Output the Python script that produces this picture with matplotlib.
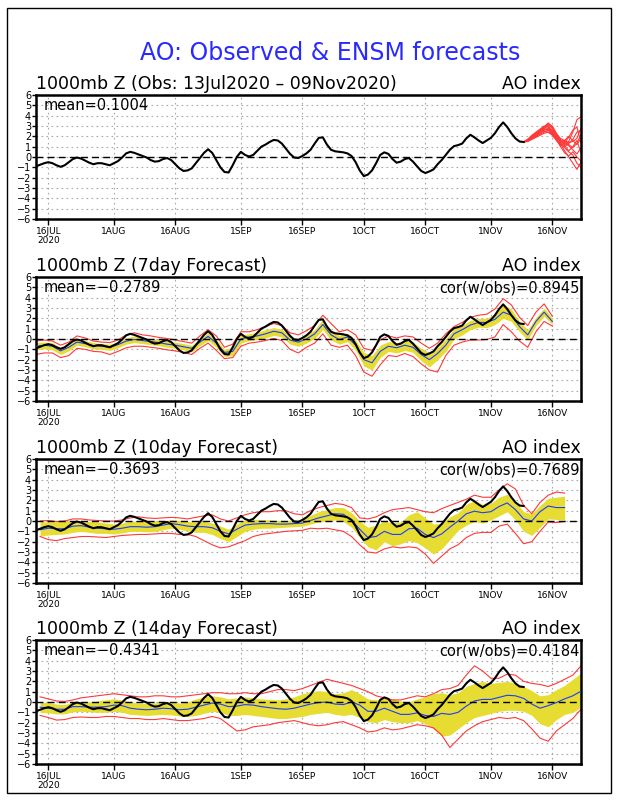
import matplotlib
matplotlib.use("Agg")
import matplotlib.pyplot as plt
import matplotlib.patches as patches
import numpy as np

# --- data (AO index, day 0 = 13 Jul 2020) ---
start = np.datetime64('2020-07-13')

obs_ao = [-0.9, -0.75, -0.6, -0.5, -0.6, -0.8, -0.95, -0.8, -0.5, -0.2,
          -0.05, -0.15, -0.35, -0.55, -0.7, -0.6, -0.6, -0.7, -0.8, -0.6,
          -0.4, -0.05, 0.35, 0.5, 0.4, 0.25, 0.1, -0.05, -0.3, -0.45,
          -0.4, -0.2, -0.1, -0.3, -0.7, -1.1, -1.35, -1.3, -1.1, -0.6,
          -0.1, 0.4, 0.75, 0.4, -0.3, -1.0, -1.45, -1.5, -0.8, 0.0,
          0.5, 0.2, 0.05, 0.2, 0.6, 1.0, 1.2, 1.45, 1.65, 1.6,
          1.3, 0.8, 0.3, -0.05, -0.1, 0.1, 0.35, 0.7, 1.3, 1.85,
          1.9, 1.2, 0.7, 0.55, 0.5, 0.45, 0.35, 0.1, -0.5, -1.3,
          -1.85, -1.7, -1.3, -0.6, 0.2, 0.45, 0.3, -0.2, -0.55, -0.45,
          -0.2, -0.1, -0.45, -0.9, -1.35, -1.55, -1.4, -1.2, -0.7, -0.3,
          0.2, 0.7, 1.05, 1.15, 1.3, 1.8, 2.15, 1.9, 1.6, 1.35,
          1.6, 1.85, 2.3, 2.9, 3.35, 2.9, 2.3, 1.8, 1.5, 1.45]

# ensemble members from 09 Nov (day 119) to 23 Nov
ens_members = [
    [1.45, 1.6, 1.9, 2.2, 2.6, 2.9, 3.3, 2.9, 2.2, 1.6, 1.2, 1.5, 2.4, 3.6, 3.9],
    [1.45, 1.7, 2.0, 2.3, 2.5, 2.8, 3.0, 2.6, 2.1, 1.4, 0.9, 0.5, 0.2, -0.6, -1.0],
    [1.45, 1.55, 1.8, 2.1, 2.3, 2.6, 2.7, 2.3, 1.7, 1.2, 1.0, 1.3, 1.7, 2.4, 2.6],
    [1.45, 1.65, 1.95, 2.2, 2.4, 2.5, 2.4, 2.2, 1.8, 1.3, 0.6, 0.0, -0.6, -1.2, -0.5],
    [1.45, 1.6, 1.85, 2.0, 2.3, 2.7, 3.1, 2.8, 2.0, 1.5, 1.6, 2.0, 1.6, 1.2, 1.8],
    [1.45, 1.7, 2.1, 2.4, 2.7, 3.0, 2.9, 2.5, 1.9, 1.5, 1.3, 1.1, 0.7, 0.3, 0.9],
    [1.45, 1.5, 1.7, 1.9, 2.1, 2.3, 2.4, 2.1, 1.6, 1.1, 1.4, 1.9, 2.6, 2.9, 1.4],
    [1.45, 1.65, 1.9, 2.3, 2.6, 2.9, 3.2, 3.0, 2.3, 1.7, 1.1, 0.6, 1.0, 1.6, 0.4],
    [1.45, 1.6, 1.8, 2.1, 2.4, 2.6, 2.8, 2.4, 1.9, 1.6, 1.5, 1.2, 0.9, 1.3, 2.2],
    [1.45, 1.7, 2.0, 2.3, 2.5, 2.7, 2.6, 2.2, 1.7, 1.0, 0.4, 0.1, 0.5, 0.0, -0.4],
    [1.45, 1.55, 1.75, 2.0, 2.2, 2.4, 2.6, 2.5, 2.2, 1.8, 1.6, 1.4, 1.5, 1.8, 2.8],
]

# 7day forecast, every 2nd day from day 0
mean7 = [-0.7, -0.6, -0.7, -1.15, -0.8, -0.3, -0.45, -0.65, -0.7, -0.8,
         -0.55, -0.2, -0.05, -0.15, -0.25, -0.35, -0.5, -0.6, -0.75, -0.9,
         -0.3, 0.25, -0.4, -1.3, -1.2, 0.0, 0.2, 0.3, 0.5, 0.75,
         0.6, -0.1, -0.3, 0.0, 0.5, 1.4, 0.4, -0.05, 0.2, -0.6,
         -2.0, -2.3, -1.2, -0.7, -0.85, -0.6, -0.8, -1.5, -2.0, -1.4,
         -0.6, 0.5, 0.9, 1.35, 1.6, 1.6, 1.9, 2.6, 2.3, 1.2,
         0.4, 1.7, 2.6, 1.7]
hi7 = [-0.35, -0.3, -0.35, -0.85, -0.5, 0.05, -0.15, -0.35, -0.45, -0.5,
       -0.3, 0.1, 0.3, 0.15, 0.05, -0.05, -0.2, -0.3, -0.45, -0.6,
       0.0, 0.6, -0.05, -1.0, -0.8, 0.4, 0.5, 0.65, 0.9, 1.1,
       0.95, 0.25, 0.05, 0.4, 0.9, 1.9, 0.9, 0.35, 0.6, -0.1,
       -1.3, -1.6, -0.6, -0.25, -0.35, -0.2, -0.3, -0.9, -1.3, -0.8,
       0.0, 1.0, 1.3, 1.8, 2.0, 2.0, 2.4, 3.4, 2.9, 1.7,
       0.9, 2.1, 3.0, 2.0]
lo7 = [-1.05, -0.95, -1.05, -1.5, -1.15, -0.6, -0.75, -0.95, -1.0, -1.1,
       -0.85, -0.5, -0.35, -0.45, -0.55, -0.65, -0.8, -0.9, -1.05, -1.25,
       -0.65, -0.15, -0.8, -1.7, -1.6, -0.4, -0.15, -0.05, 0.1, 0.35,
       0.2, -0.5, -0.7, -0.4, 0.05, 0.9, -0.1, -0.5, -0.25, -1.1,
       -2.6, -3.0, -1.8, -1.2, -1.35, -1.1, -1.3, -2.1, -2.7, -2.0,
       -1.2, 0.0, 0.4, 0.9, 1.15, 1.1, 1.4, 2.0, 1.7, 0.7,
       -0.1, 1.3, 2.2, 1.4]
max7 = [-0.2, -0.1, -0.2, -0.6, -0.3, 0.3, 0.1, -0.2, -0.3, -0.35,
        -0.1, 0.4, 0.6, 0.4, 0.3, 0.15, 0.05, -0.1, -0.25, -0.4,
        0.3, 0.9, 0.3, -0.8, -0.5, 0.7, 0.7, 0.9, 1.2, 1.5,
        1.3, 0.6, 0.4, 0.8, 1.3, 2.3, 1.5, 0.7, 0.9, 0.4,
        -0.9, -1.1, -0.1, 0.3, 0.1, 0.3, 0.2, -0.4, -0.9, -0.4,
        0.5, 1.2, 1.6, 2.1, 2.3, 2.4, 2.9, 3.9, 3.3, 2.1,
        1.3, 2.6, 3.4, 2.2]
min7 = [-1.5, -1.35, -1.35, -1.8, -1.6, -0.9, -1.0, -1.2, -1.25, -1.5,
        -1.2, -0.85, -0.7, -0.7, -0.8, -0.9, -1.05, -1.15, -1.3, -1.5,
        -0.9, -0.4, -1.1, -1.9, -1.8, -0.7, -0.4, -0.3, -0.15, 0.05,
        -0.15, -1.0, -1.35, -0.8, -0.4, 0.5, -0.6, -0.8, -0.6, -1.6,
        -3.2, -3.6, -2.5, -1.6, -1.7, -1.4, -1.7, -2.4, -3.0, -3.2,
        -1.6, -0.6, -0.3, -0.1, -0.1, -0.05, 0.2, 1.4, 0.7, -0.2,
        -0.8, 0.7, 1.7, 1.25]

# 10day forecast, every 2nd day from day 1
mean10 = [-0.85, -0.7, -0.75, -0.75, -0.5, -0.45, -0.6, -0.7, -0.75, -0.8,
          -0.7, -0.55, -0.55, -0.6, -0.55, -0.4, -0.25, -0.35, -0.5, -0.55,
          -0.55, -0.65, -1.0, -1.25, -0.8, -0.4, -0.3, -0.25, -0.25, -0.3,
          -0.3, -0.25, -0.2, 0.05, 0.3, 0.5, 0.7, 0.65, 0.1, -0.8,
          -1.6, -1.5, -1.0, -1.3, -1.3, -0.75, -0.7, -1.3, -1.6, -1.25,
          -0.6, 0.0, 0.7, 0.95, 0.8, 0.9, 1.4, 1.75, 1.1, 0.2,
          0.0, 0.9, 1.45, 1.3, 1.3]
hi10 = [-0.05, -0.1, -0.05, 0.0, 0.0, 0.0, -0.05, -0.1, -0.2, -0.3,
        -0.2, -0.05, 0.0, -0.05, 0.0, 0.05, 0.1, 0.05, -0.05, -0.1,
        -0.05, -0.2, -0.5, -0.8, -0.3, 0.1, 0.15, 0.15, 0.1, 0.05,
        0.05, 0.1, 0.2, 0.55, 0.9, 1.1, 1.3, 1.3, 0.8, 0.0,
        -0.6, -0.4, 0.0, -0.2, -0.1, 0.6, 0.9, 0.3, -0.3, -0.2,
        0.4, 0.8, 1.6, 2.0, 1.6, 1.7, 2.3, 2.6, 1.9, 0.9,
        0.7, 1.5, 2.2, 2.3, 2.4]
lo10 = [-1.45, -1.35, -1.3, -1.25, -1.1, -1.0, -1.1, -1.2, -1.2, -1.25,
        -1.15, -1.0, -1.0, -1.05, -1.0, -0.85, -0.7, -0.8, -0.95, -1.1,
        -1.1, -1.3, -1.7, -2.0, -1.5, -1.0, -0.8, -0.7, -0.7, -0.65,
        -0.6, -0.55, -0.5, -0.3, -0.1, 0.0, 0.1, -0.05, -0.6, -1.6,
        -2.5, -2.8, -2.0, -2.4, -2.2, -1.9, -2.1, -2.6, -3.2, -2.7,
        -1.8, -0.9, -0.4, -0.05, -0.2, 0.1, 0.5, 0.9, 0.1, -1.0,
        -1.4, -0.6, 0.2, 0.15, 0.1]
max10 = [0.0, 0.05, -0.05, 0.0, 0.2, 0.2, 0.1, 0.05, 0.0, 0.0,
         0.1, 0.3, 0.4, 0.3, 0.25, 0.3, 0.35, 0.3, 0.2, 0.35,
         0.5, 0.6, 0.2, 0.0, 0.3, 0.6, 0.8, 0.9, 0.9, 1.0,
         1.0, 0.7, 0.6, 1.0, 1.3, 1.5, 1.7, 1.6, 1.3, 0.3,
         0.2, 0.4, 0.8, 1.1, 1.2, 1.3, 1.1, 0.9, 0.8, 1.2,
         1.5, 1.8, 2.1, 2.5, 2.3, 2.3, 3.0, 3.6, 3.1, 1.5,
         0.7, 1.8, 2.5, 2.8, 2.7]
min10 = [-1.5, -1.8, -1.9, -1.7, -1.6, -1.5, -1.5, -1.55, -1.6, -1.5,
         -1.4, -1.35, -1.3, -1.3, -1.25, -1.2, -1.2, -1.3, -1.3, -1.5,
         -1.9, -2.3, -2.6, -2.5, -2.2, -1.9, -1.5, -1.3, -1.2, -1.1,
         -1.0, -0.95, -0.9, -0.7, -0.75, -0.7, -0.85, -1.0, -1.5, -2.3,
         -3.0, -3.1, -2.7, -2.5, -2.6, -2.5, -2.6, -3.2, -4.1, -3.4,
         -2.7, -2.3, -1.6, -1.2, -1.1, -1.1, -0.5, -0.3, -1.2, -2.2,
         -2.0, -1.0, -0.1, -0.15, -0.05]

# 14day forecast, every 2nd day from day 1
mean14 = [-0.5, -0.6, -0.7, -0.7, -0.45, -0.45, -0.5, -0.5, -0.45, -0.3,
          -0.35, -0.6, -0.7, -0.75, -0.7, -0.6, -0.65, -0.75, -0.7, -0.5,
          -0.3, -0.1, -0.2, -0.45, -0.4, -0.25, -0.3, -0.45, -0.55, -0.65,
          -0.7, -0.6, -0.4, -0.2, -0.05, 0.0, -0.2, -0.25, 0.0, -0.3,
          -0.9, -0.9, -0.6, -0.9, -1.2, -1.2, -1.05, -1.3, -1.4, -1.1,
          -1.2, -1.0, -0.4, 0.1, 0.25, 0.25, 0.45, 0.65, 0.6, 0.35,
          -0.2, -0.6, -0.35, -0.05, 0.3, 0.6, 1.05]
hi14 = [-0.05, -0.05, -0.2, -0.25, 0.0, 0.05, 0.0, 0.1, 0.2, 0.3,
        0.2, 0.0, -0.1, -0.15, -0.1, 0.05, 0.0, -0.1, 0.0, 0.3,
        0.5, 0.6, 0.5, 0.3, 0.4, 0.5, 0.4, 0.3, 0.25, 0.2,
        0.3, 0.5, 0.8, 1.0, 1.1, 1.0, 0.8, 0.9, 1.2, 0.8,
        0.3, 0.2, 0.4, 0.3, 0.1, 0.0, 0.3, 0.5, 0.8, 0.9,
        0.7, 0.9, 1.5, 1.8, 2.0, 1.8, 1.9, 2.0, 1.8, 1.5,
        1.1, 0.6, 0.7, 1.2, 1.6, 2.2, 2.8]
lo14 = [-1.0, -1.05, -1.15, -1.15, -0.95, -0.9, -0.95, -1.0, -1.0, -0.9,
        -1.0, -1.2, -1.25, -1.3, -1.25, -1.2, -1.25, -1.35, -1.4, -1.3,
        -1.1, -0.9, -1.0, -1.3, -1.3, -1.2, -1.3, -1.4, -1.5, -1.6,
        -1.6, -1.5, -1.4, -1.2, -1.1, -1.0, -1.2, -1.3, -1.2, -1.5,
        -1.9, -2.0, -1.7, -1.9, -2.0, -2.0, -1.8, -2.1, -2.6, -3.3,
        -3.2, -2.6, -2.0, -1.5, -1.3, -1.1, -0.9, -0.8, -0.8, -0.9,
        -1.3, -2.1, -2.4, -1.7, -1.2, -1.0, -0.5]
max14 = [0.5, 0.3, 0.1, 0.05, 0.2, 0.4, 0.5, 0.6, 0.7, 0.8,
         0.7, 0.6, 0.5, 0.5, 0.6, 0.6, 0.5, 0.5, 0.6, 0.7,
         0.8, 0.9, 0.9, 0.8, 0.8, 0.9, 0.8, 0.8, 1.0, 1.2,
         1.2, 1.1, 1.3, 1.6, 1.9, 2.2, 2.0, 1.8, 1.6, 1.3,
         1.0, 0.6, 0.4, 0.2, 0.2, 0.4, 0.6, 0.5, 0.8, 1.2,
         1.3, 1.6, 2.6, 3.5, 3.0, 2.3, 2.3, 2.7, 2.6, 2.0,
         1.8, 1.7, 1.5, 1.8, 2.2, 2.6, 3.5]
min14 = [-1.3, -1.5, -1.75, -1.7, -1.5, -1.45, -1.5, -1.5, -1.4, -1.4,
         -1.5, -1.6, -1.6, -1.7, -1.7, -1.6, -1.7, -1.8, -1.8, -1.7,
         -1.6, -1.4, -1.6, -2.2, -2.8, -2.7, -2.4, -2.3, -2.2, -2.0,
         -1.9, -1.8, -2.0, -2.2, -2.3, -2.2, -2.0, -1.9, -2.2, -2.5,
         -2.9, -2.8, -2.5, -2.7, -2.6, -2.4, -2.2, -2.3, -2.5, -3.2,
         -4.4, -3.6, -2.8, -2.3, -1.9, -1.7, -1.5, -1.6, -1.5, -1.8,
         -2.6, -3.5, -3.8, -2.8, -2.2, -1.6, -0.7]

panel_titles = ["1000mb Z (Obs: 13Jul2020 \u2013 09Nov2020)",
                "1000mb Z (7day Forecast)",
                "1000mb Z (10day Forecast)",
                "1000mb Z (14day Forecast)"]
mean_labels = ["mean=0.1004", "mean=\u22120.2789", "mean=\u22120.3693", "mean=\u22120.4341"]
cor_labels = [None, "cor(w/obs)=0.8945", "cor(w/obs)=0.7689", "cor(w/obs)=0.4184"]

tick_dates = np.array(['2020-07-16', '2020-08-01', '2020-08-16', '2020-09-01', '2020-09-16',
                       '2020-10-01', '2020-10-16', '2020-11-01', '2020-11-16'], dtype='datetime64[D]')
tick_labels = ["16JUL\n2020", "1AUG", "16AUG", "1SEP", "16SEP", "1OCT", "16OCT", "1NOV", "16NOV"]

# --- dates ---
obs_dates = start + np.arange(len(obs_ao))
ens_dates = start + 119 + np.arange(len(ens_members[0]))
fc7_dates = start + np.arange(0, 2 * len(mean7), 2)
fc10_dates = start + np.arange(1, 2 * len(mean10), 2)
fc14_dates = start + np.arange(1, 2 * len(mean14), 2)

YELLOW = "#e6dc32"
RED = "#ff3838"
BLUE = "#1e3cff"

fig = plt.figure(figsize=(6.18, 8.0), dpi=100)
fig.patch.set_facecolor("white")

# outer frame + main title
fig.add_artist(patches.Rectangle((7 / 618, 1 - 793 / 800), 604 / 618, 785 / 800,
                                 transform=fig.transFigure, fill=False, ec="black", lw=1))
fig.text(0.535, 1 - 53 / 800, "AO: Observed & ENSM forecasts", color="#2a2aff",
         fontsize=17, ha="center", va="center")

tops = [95, 277, 459, 640]
axes = []
for top in tops:
    ax = fig.add_axes([36 / 618, 1 - (top + 124) / 800, 545 / 618, 124 / 800])
    axes.append(ax)


def style_axis(ax, idx):
    ax.set_xlim(start, np.datetime64('2020-11-23'))
    ax.set_ylim(-6, 6)
    ax.set_yticks(np.arange(-6, 7))
    ax.set_xticks(tick_dates)
    ax.set_xticklabels(tick_labels, fontsize=6.5, linespacing=0.95)
    ax.tick_params(axis='y', labelsize=7, length=3, width=1, pad=0.5, direction='out')
    ax.tick_params(axis='x', length=4, width=1, pad=2, direction='out')
    for s in ax.spines.values():
        s.set_linewidth(1.8)
    # dotted grid
    for d in tick_dates:
        ax.axvline(d, color="#a8a8a8", lw=0.8, ls=(0, (1.5, 3)), zorder=0)
    for yv in range(-5, 6):
        ax.axhline(yv, color="#a8a8a8", lw=0.8, ls=(0, (1.5, 3)), zorder=0)
    ax.text(0.0, 1.045, panel_titles[idx], transform=ax.transAxes, fontsize=12.5,
            ha='left', va='baseline')
    ax.text(1.0, 1.045, "AO index", transform=ax.transAxes, fontsize=12.5,
            ha='right', va='baseline')
    ax.text(0.014, 0.975, mean_labels[idx], transform=ax.transAxes, fontsize=10.5,
            ha='left', va='top', zorder=6)
    if cor_labels[idx]:
        ax.text(0.998, 0.975, cor_labels[idx], transform=ax.transAxes, fontsize=10.5,
                ha='right', va='top', zorder=6)


def draw_forecast(ax, dates, mean, lo, hi, mn, mx):
    ax.fill_between(dates, lo, hi, color=YELLOW, lw=0, zorder=1)
    ax.plot(dates, mx, color=RED, lw=0.8, zorder=2)
    ax.plot(dates, mn, color=RED, lw=0.8, zorder=2)
    ax.plot(dates, mean, color=BLUE, lw=0.8, zorder=3)


# panel 1: observed + ensemble members
ax = axes[0]
for m in ens_members:
    ax.plot(ens_dates, m, color=RED, lw=0.8, zorder=2)

draw_forecast(axes[1], fc7_dates, mean7, lo7, hi7, min7, max7)
draw_forecast(axes[2], fc10_dates, mean10, lo10, hi10, min10, max10)
draw_forecast(axes[3], fc14_dates, mean14, lo14, hi14, min14, max14)

for i, ax in enumerate(axes):
    ax.axhline(0, color="black", lw=1, ls=(0, (5, 3)), zorder=4)
    ax.plot(obs_dates, obs_ao, color="black", lw=1.5, zorder=5)
    style_axis(ax, i)

fig.savefig("out.png", dpi=100)
